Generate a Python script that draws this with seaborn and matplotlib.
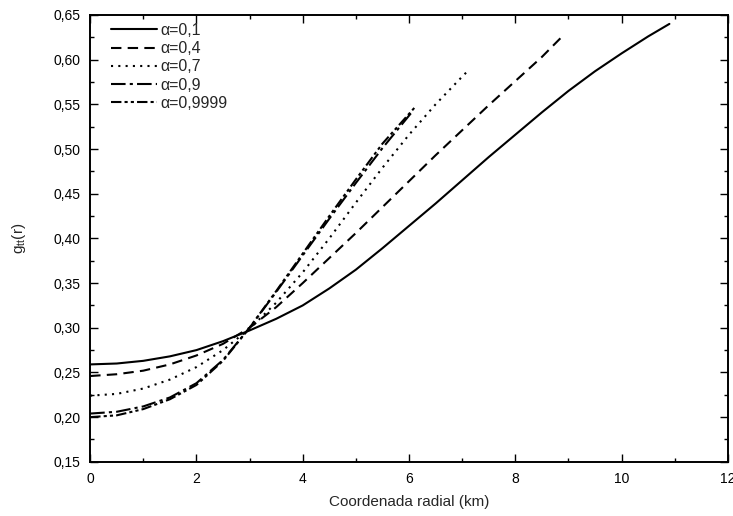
import numpy as np
import pandas as pd
import matplotlib
matplotlib.use("Agg")
import matplotlib.pyplot as plt
import seaborn as sns
from matplotlib.ticker import MultipleLocator, FuncFormatter

# valores (r em km, g_tt)
r_01 = [0, 0.5, 1, 1.5, 2, 2.5, 3, 3.5, 4, 4.5, 5, 5.5, 6, 6.5, 7, 7.5, 8, 8.5, 9, 9.5, 10, 10.5, 10.9]
g_01 = [0.259, 0.260, 0.263, 0.268, 0.275, 0.285, 0.297, 0.310, 0.325, 0.344, 0.365, 0.389, 0.414,
        0.439, 0.465, 0.491, 0.516, 0.541, 0.565, 0.587, 0.607, 0.626, 0.640]

r_04 = [0, 0.5, 1, 1.5, 2, 2.5, 3, 3.5, 4, 4.5, 5, 5.5, 6, 6.5, 7, 7.5, 8, 8.5, 8.85]
g_04 = [0.246, 0.248, 0.252, 0.259, 0.269, 0.282, 0.300, 0.323, 0.350, 0.378, 0.406, 0.435, 0.464,
        0.493, 0.521, 0.549, 0.576, 0.603, 0.624]

r_07 = [0, 0.5, 1, 1.5, 2, 2.5, 3, 3.5, 4, 4.5, 5, 5.5, 6, 6.5, 7, 7.1]
g_07 = [0.224, 0.226, 0.232, 0.242, 0.256, 0.275, 0.299, 0.328, 0.362, 0.400, 0.440, 0.479, 0.516,
        0.550, 0.581, 0.587]

r_09 = [0, 0.5, 1, 1.5, 2, 2.5, 3, 3.5, 4, 4.5, 5, 5.5, 6.05]
g_09 = [0.204, 0.206, 0.212, 0.222, 0.238, 0.264, 0.300, 0.340, 0.381, 0.422, 0.462, 0.501, 0.541]

r_09999 = [0, 0.5, 1, 1.5, 2, 2.5, 3, 3.5, 4, 4.5, 5, 5.5, 6.1]
g_09999 = [0.200, 0.202, 0.209, 0.220, 0.236, 0.263, 0.300, 0.341, 0.383, 0.425, 0.466, 0.506, 0.546]

labels = ["α=0,1", "α=0,4", "α=0,7", "α=0,9", "α=0,9999"]
styles = ["-", (0, (5, 3)), (0, (1, 2.5)), (0, (7, 2, 1.5, 2)), (0, (5, 1.5, 1.5, 1.5, 1.5, 1.5))]

series = [(r_01, g_01), (r_04, g_04), (r_07, g_07), (r_09, g_09), (r_09999, g_09999)]

sns.set_theme(style="ticks")
plt.rcParams['font.family'] = ['Liberation Sans', 'DejaVu Sans']

fig = plt.figure(figsize=(7.33, 5.16), dpi=100)
ax = fig.add_axes([0.123, 0.105, 0.870, 0.866])

for (r, g), lab, ls in zip(series, labels, styles):
    df = pd.DataFrame({'r': r, 'g': g})
    sns.lineplot(data=df, x='r', y='g', ax=ax, color='black', linestyle=ls,
                 linewidth=1.5, label=lab, sort=False)

ax.set_xlim(0, 12)
ax.set_ylim(0.15, 0.65)
ax.xaxis.set_major_locator(MultipleLocator(2))
ax.xaxis.set_minor_locator(MultipleLocator(1))
ax.yaxis.set_major_locator(MultipleLocator(0.05))
ax.yaxis.set_minor_locator(MultipleLocator(0.025))
ax.yaxis.set_major_formatter(FuncFormatter(lambda v, p: f"{v:.2f}".replace('.', ',')))
ax.tick_params(which='both', direction='in', top=True, right=True, labelsize=10, colors='black')
ax.tick_params(which='major', length=6, width=1, pad=7)
ax.tick_params(which='minor', length=3, width=1)
for s in ax.spines.values():
    s.set_linewidth(1.4)
    s.set_color('black')

ax.set_xlabel("Coordenada radial (km)", fontsize=11, labelpad=7)
ax.set_ylabel(r"$\mathregular{g_{tt}(r)}$", fontsize=11, labelpad=18)

ax.legend(loc='upper left', frameon=False, fontsize=11.5, handlelength=2.9,
          handletextpad=0.2, labelspacing=0.2, borderaxespad=0.3, borderpad=0.2,
          bbox_to_anchor=(0.02, 1.0))

fig.savefig("out.png", dpi=100)
